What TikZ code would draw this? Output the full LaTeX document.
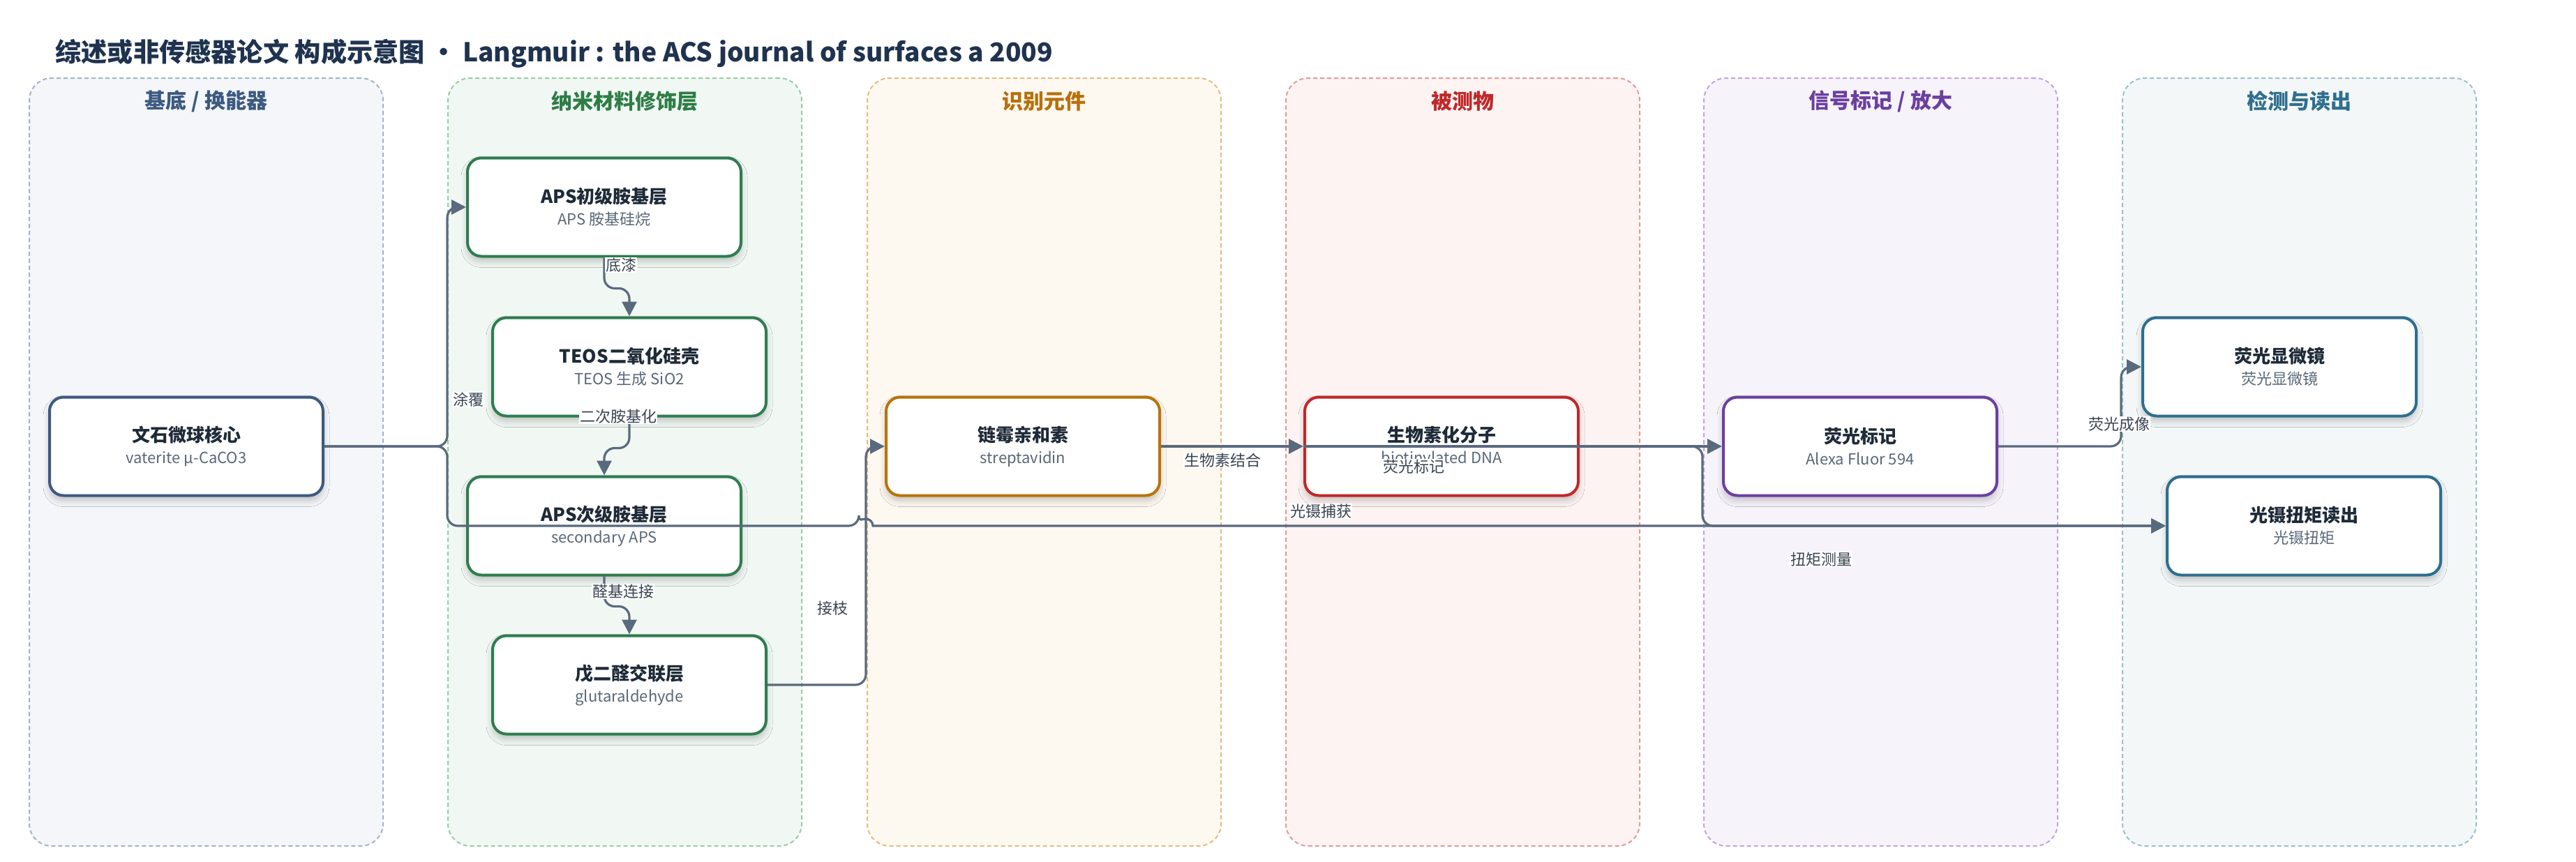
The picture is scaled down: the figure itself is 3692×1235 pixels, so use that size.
\documentclass[tikz,border=0pt]{standalone}
\usepackage{fontspec}
\setmainfont{Noto Sans CJK SC}
\usepackage{xcolor}
\usepackage{tikz}
\usetikzlibrary{arrows.meta}
\usetikzlibrary{shadows.blur}

\definecolor{ink}{HTML}{1E2A38}
\definecolor{subink}{HTML}{5A6878}
\definecolor{headink}{HTML}{1F3350}
\definecolor{wire}{HTML}{5A6A7E}
\definecolor{tagink}{HTML}{3A4552}
\definecolor{bg1}{HTML}{F4F6FA}\definecolor{rim1}{HTML}{A6B3C8}\definecolor{ink1}{HTML}{3D5A80}
\definecolor{bg2}{HTML}{F1F8F3}\definecolor{rim2}{HTML}{9CCAA9}\definecolor{ink2}{HTML}{2E7D46}
\definecolor{bg3}{HTML}{FDF8F0}\definecolor{rim3}{HTML}{E3BD80}\definecolor{ink3}{HTML}{B7700A}
\definecolor{bg4}{HTML}{FDF3F2}\definecolor{rim4}{HTML}{E29A9A}\definecolor{ink4}{HTML}{C0282A}
\definecolor{bg5}{HTML}{F7F3FB}\definecolor{rim5}{HTML}{C0A6DC}\definecolor{ink5}{HTML}{6B3FA0}
\definecolor{bg6}{HTML}{F3F7F8}\definecolor{rim6}{HTML}{9BC0CC}\definecolor{ink6}{HTML}{2F6F8F}
\definecolor{edge1}{HTML}{3D5A80}
\definecolor{edge2}{HTML}{2E7D4F}
\definecolor{edge3}{HTML}{B8740A}
\definecolor{edge4}{HTML}{C0282A}
\definecolor{edge5}{HTML}{6B3FA0}
\definecolor{edge6}{HTML}{2E6E8E}

\newcommand\boxhead{\fontsize{26}{31}\selectfont\bfseries\color{ink}}
\newcommand\boxsub{\fontsize{22}{31}\selectfont\color{subink}}

\tikzset{
  lane/.style={rectangle, rounded corners=32pt, line width=2pt,
    dash pattern=on 6pt off 4pt, minimum width=507pt, minimum height=1101pt, inner sep=0pt},
  lanehead/.style={font=\fontsize{30}{34}\selectfont\bfseries},
  stage/.style={rectangle, rounded corners=20pt, draw, line width=4pt, fill=white,
    minimum width=392pt, minimum height=141pt, align=center, inner sep=0pt,
    font=\fontsize{22}{31}\selectfont,
    blur shadow={shadow xshift=0pt, shadow yshift=-7pt, shadow blur radius=9pt, shadow opacity=22}},
  flow/.style={draw=wire, line width=3.2pt, rounded corners=15pt,
    -{Triangle[length=21pt, width=21pt]}},
  tag/.style={fill=white, inner sep=1pt, text=tagink, font=\fontsize{22}{24}\selectfont}
}

\begin{document}
\begin{tikzpicture}[x=1pt, y=-1pt]
  \useasboundingbox (0,0) rectangle (3692,1235);

  \node[anchor=west, text=headink, font=\fontsize{37.2}{44}\selectfont\bfseries] (title) at (76,77)
    {综述或非传感器论文 构成示意图 • Langmuir : the ACS journal of surfaces a 2009};

  \foreach \n/\cx/\head in {1/295.5/{基底 / 换能器}, 2/895.5/纳米材料修饰层, 3/1496.5/识别元件,
                            4/2096.5/被测物, 5/2695.5/{信号标记 / 放大}, 6/3295.5/检测与读出}{
    \node[lane, fill=bg\n, draw=rim\n] (lane\n) at (\cx,662.5) {};
    \node[lanehead, text=ink\n] (lanehead\n) at ([yshift=-34pt]lane\n.north) {\head};
  }

  \node[stage, draw=edge1] (core) at (267,640) {{\boxhead 文石微球核心}\\{\boxsub vaterite μ-CaCO3}};
  \node[stage, draw=edge2] (aps1) at (866,297) {{\boxhead APS初级胺基层}\\{\boxsub APS 胺基硅烷}};
  \node[stage, draw=edge2] (teos) at (902,526) {{\boxhead TEOS二氧化硅壳}\\{\boxsub TEOS 生成 SiO2}};
  \node[stage, draw=edge2] (aps2) at (866,754) {{\boxhead APS次级胺基层}\\{\boxsub secondary APS}};
  \node[stage, draw=edge2] (glut) at (902,982) {{\boxhead 戊二醛交联层}\\{\boxsub glutaraldehyde}};
  \node[stage, draw=edge3] (strep) at (1466,640) {{\boxhead 链霉亲和素}\\{\boxsub streptavidin}};
  \node[stage, draw=edge4] (biot) at (2066,640) {{\boxhead 生物素化分子}\\{\boxsub biotinylated DNA}};
  \node[stage, draw=edge5] (fluor) at (2666,640) {{\boxhead 荧光标记}\\{\boxsub Alexa Fluor 594}};
  \node[stage, draw=edge6] (scope) at (3267,526) {{\boxhead 荧光显微镜}\\{\boxsub 荧光显微镜}};
  \node[stage, draw=edge6] (tweez) at (3302,754) {{\boxhead 光镊扭矩读出}\\{\boxsub 光镊扭矩}};

  \coordinate (hop) at ([xshift=-27pt]strep.west |- aps2.west);
  \coordinate (drop) at ([xshift=-28pt]fluor.west);

  \draw[flow] (core.east) -| ([xshift=-27pt]aps1.west) -- (aps1.west);
  \draw[flow] (core.east) -| ([xshift=-27pt]aps2.west) -- ([xshift=-10pt]hop) [sharp corners]
    arc[start angle=180, end angle=0, radius=10pt] -- (tweez.west);
  \draw[flow] (aps1.south) -- ++(0,44) -| (teos.north);
  \draw[flow] (teos.south) -- ++(0,44) -| (aps2.north);
  \draw[flow] (aps2.south) -- ++(0,43) -| (glut.north);
  \draw[flow] (glut.east) -| ([xshift=-27pt]strep.west) -- (strep.west);
  \draw[flow] (strep.east) -- (biot.west);
  \draw[flow] (biot.west) -- (fluor.west);
  \draw[flow] (biot.west) -| (drop |- tweez.west) -- (tweez.west);
  \draw[flow] (fluor.east) -| ([xshift=-29pt]scope.west) -- (scope.west);

  \node[tag] (t-coat) at (671,573) {涂覆};
  \node[tag] (t-prime) at (890,380) {底漆};
  \node[tag] (t-amine) at (886,597) {二次胺基化};
  \node[tag] (t-ald) at (893,848) {醛基连接};
  \node[tag] (t-graft) at (1193,872) {接枝};
  \node[tag] (t-bind) at (1752,660) {生物素结合};
  \node[tag] (t-label) at (2026,669) {荧光标记};
  \node[tag] (t-trap) at (1893,733) {光镊捕获};
  \node[tag] (t-torque) at (2610,802) {扭矩测量};
  \node[tag] (t-image) at (3037,608) {荧光成像};
\end{tikzpicture}
\end{document}
